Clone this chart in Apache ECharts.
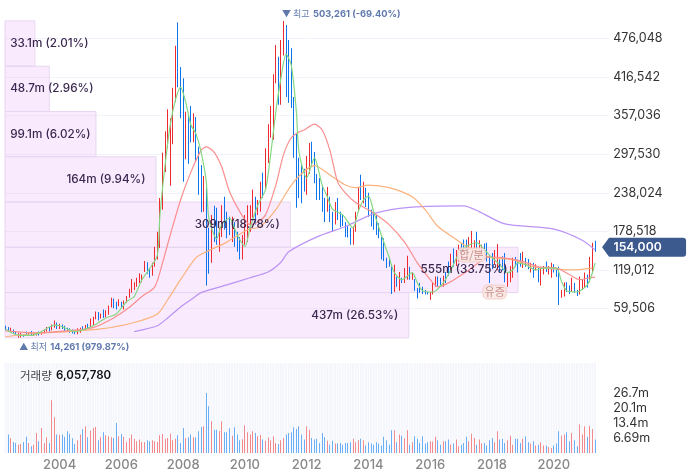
<!DOCTYPE html>
<html><head><meta charset="utf-8">
<style>html,body{margin:0;padding:0;background:#fff}#c{width:692px;height:476px}</style>
<script src="https://cdn.jsdelivr.net/npm/echarts@6/dist/echarts.min.js"></script>
</head><body><div id="c"></div>
<script>
const FONT = 'Inter, "Noto Sans CJK KR", sans-serif';
const startYear = 2002, startMonth = 4, slotCount = 235;
const xTickYears = [2004,2006,2008,2010,2012,2014,2016,2018,2020];
const priceTicks = [59506,119012,178518,238024,297530,357036,416542,476048];
const volTickLabels = {'6.69':'6.69m','13.38':'13.4m','20.07':'20.1m','26.76':'26.7m'};

// monthly bars, prices in thousands
const dirs = "BBRBBRRBBR"+"BRRBRRRBRR"+"BRBBBBBBRR"+"BRBRRRBRBR"+"RRBBRBRRRR"+"RRRRRBBRRR"+"RRRRRRRBBB"+"RBBRBBBRBB"+"RBBRRBBBRB"+"BBRRRRRBRR"+"BRRRRRBRRB"+"BBBBBBBRRB"+"BBBBBRBBRB"+"BBBBBRRRBR"+"BBBBBBBBBB"+"BRBRBRRBRB"+"BBBBBRRRBB"+"RBBRBRRBBB"+"RRRBRRBBBB"+"RRBBBRRRBB"+"BRBBRBRBRR"+"BRRBBBRRBB"+"RBBRRRBRRB";
const highs = [33,31,30,27,24,22,22,20,24,23,25,22,23,24,25,27,31,31,35,41,38,36,35,33,30,29,27,26,29,30,32,34,36,44,47,55,54,52,58,57,64,76,75,70,74,70,72,79,90,105,100,107,114,112,133,131,122,130,155,178,230,300,333,367,353,400,465,501,432,415,363,358,372,361,355,309,281,264,246,184,204,218,215,184,219,232,209,201,201,193,178,170,173,204,219,219,243,232,227,255,269,307,344,372,421,466,448,474,503.261,497,474,461,386,330,292,281,275,295,315,317,301,267,261,250,230,247,232,209,224,230,209,204,193,187,184,187,209,247,266,255,246,238,212,209,204,191,170,168,138,139,127,127,109,116,107,122,141,124,115,105,91,99,93,88,85,85,99,109,109,107,110,116,132,144,152,150,158,160,166,166,170,179,165,178,165,158,160,161,142,145,150,159,135,140,145,116,125,138,139,135,145,147,138,136,130,130,128,122,124,125,132,125,130,128,122,124,88,100,100,95,107,99,88,109,104,115,112,139,161,164];
const lows = [26,24,24,21,19,14.261,15,16,19,19,18,18,18,18,19,21,24,24,26,30,28,28,28,25,24,22,21,20,20,22,25,26,28,31,34,43,41,44,45,46,50,61,60,58,63,61,58,68,76,84,88,93,99,100,116,113,107,110,124,135,153,212,270,307,249,313,378,401,353,255,290,283,316,316,286,235,208,209,95,113,130,162,158,147,170,181,168,173,162,155,147,135,135,158,162,178,200,189,204,209,230,243,284,323,320,407,374,374,450,386,377,369,292,215,230,222,240,235,267,281,253,227,227,209,193,209,193,178,189,196,185,187,170,169,158,158,178,209,227,222,216,201,186,181,173,168,135,133,122,124,82,85,93,87,99,99,104,104,104,87,75,84,82,81,81,73,81,93,93,96,93,99,110,119,124,125,132,138,150,148,150,152,145,150,142,140,135,132,99,120,128,119,115,118,100,93,100,107,124,115,124,122,124,120,115,107,118,100,95,112,116,112,107,115,108,65,76,78,85,82,85,84,79,81,88,92,92,100,116,147];
// monthly volume, millions
const volumes = [0,8.2,6.7,4.9,4.5,3.7,4.0,4.9,7.2,4.5,3.0,3.7,8.9,5.2,11.2,4.5,7.0,4.5,23.5,15.9,8.3,8.0,8.3,7.2,9.7,8.6,6.6,4.0,5.7,8.3,10.7,11.9,7.0,10,11.2,11.6,5.7,7.0,9.2,7.9,7.5,7.0,6.7,13.4,7.5,8.5,7.2,4.9,6.7,8.2,6.3,5.2,6.0,4.9,4.9,5.7,5.2,5.7,5.2,4.9,7.9,8.5,6.3,6.7,8.6,5.7,6.3,7.9,4.5,11.2,6.7,7.0,8.2,7.0,7.0,9.7,11.6,11.9,26.8,20.9,14.2,10.4,10.4,9.8,14.2,9.2,9.2,11,7.7,11.5,8.2,5.7,6.1,12.4,9.2,8.2,9.7,8.9,7.5,8.0,6.0,5.5,6.9,5.7,7.5,4.5,4.0,5.7,6.7,8.2,8.9,9.2,11.5,10.7,11.9,8.2,6.0,11.9,10.4,6.7,6.0,6.3,4.5,8.9,7.0,5.5,3.7,5.5,4.2,4.2,4.5,3.7,4.5,4.5,4.8,6.3,4.8,5.7,6.3,5.7,3.4,4.8,4.2,3.7,4.8,4.2,3.3,7.2,5.7,3.7,10.1,10.1,4.8,8.3,7.7,6.6,10.1,3.7,4.8,7.5,6.3,4.5,7.5,4.2,4.8,5.2,5.1,7.2,5.7,3.7,5.2,5.2,6.0,3.7,4.2,6.0,3.0,3.7,4.5,7.2,5.2,8.6,6.7,3.7,6.0,4.2,4.5,3.3,5.7,6.7,4.8,9.7,6.0,6.3,4.5,5.7,7.7,3.7,6.3,6.3,4.5,6.3,7.5,4.8,4.2,5.2,3.3,3.7,4.8,3.3,3.3,2.7,2.2,3.3,4.2,9.7,7.7,8.2,9.2,5.2,8.9,5.7,3.0,12.7,8.2,11.9,7.2,12.2,10.7,6.06];

// moving averages as [bar index, price in thousands]
const maGreen = [[0,28],[3,21],[6,18],[10,18],[13,22],[17,31],[19,34],[21,33],[24,28],[27,24],[31,28],[35,35],[39,45],[43,51],[47,70],[50,78],[53,104],[56,121],[59,142],[60,204],[62,281],[64,343],[66,381],[68,401],[70,378],[72,343],[74,329],[76,301],[78,255],[79,199],[82,167],[84,189],[87,199],[90,173],[93,155],[95,184],[98,219],[101,243],[103,297],[105,363],[107,415],[109,452],[111,435],[113,363],[114,301],[117,261],[120,292],[123,250],[125,232],[127,213],[131,204],[135,184],[137,209],[139,227],[141,233],[143,209],[146,173],[149,139],[151,115],[154,104],[158,115],[160,99],[162,87],[166,85],[170,99],[173,119],[177,150],[183,161],[184,159],[188,142],[192,127],[195,115],[197,119],[199,130],[202,127],[206,119],[209,122],[214,122],[216,101],[218,87],[222,85],[226,96],[228,115],[229,130]];
const maRed = [[0,25],[11,22],[24,25],[34,30],[42,45],[48,61],[53,78],[58,93],[61,130],[64,173],[68,227],[72,270],[76,304],[78,309],[81,301],[84,278],[87,240],[91,209],[95,189],[98,193],[101,204],[105,250],[108,297],[111,323],[114,332],[116,335],[120,344],[123,335],[126,304],[129,255],[132,238],[136,223],[143,207],[149,189],[155,162],[160,130],[165,104],[168,93],[173,101],[180,119],[188,139],[193,138],[201,132],[207,124],[214,122],[219,112],[223,104],[227,107],[229,108]];
const maOrange = [[0,16],[11,21],[24,24],[37,28],[50,38],[59,51],[63,73],[68,104],[74,138],[78,147],[86,162],[94,181],[99,186],[105,212],[112,255],[120,280],[127,263],[132,250],[136,246],[141,250],[149,246],[158,232],[163,212],[168,186],[174,169],[178,158],[188,139],[197,135],[205,124],[212,121],[220,119],[228,122]];
const maPurple = [[50,24],[59,33],[63,45],[68,62],[72,73],[76,84],[86,96],[95,107],[102,116],[107,131],[110,147],[121,170],[132,186],[144,207],[158,216],[178,218],[184,209],[194,190],[213,182],[224,165],[229,150]];

// volume profile
const profileEdges = [14261,84118,153975,223832,293689,363546,433403,503261];
const profileVolumes = [437,555,309,164,99.1,48.7,33.1];
const profileLabels = ['437m (26.53%)','555m (33.75%)','309m (18.78%)','164m (9.94%)','99.1m (6.02%)','48.7m (2.96%)','33.1m (2.01%)'];

const tagLabels = ['합/분','유증'], tagBars = [181,190], tagPrices = [142000,85000];
const lastClose = 154000, lastBar = 229;
const highBar = 108, highPrice = 503261, lowBar = 5, lowPrice = 14261;

const categories = [];
for (let i=0;i<slotCount;i++){const m=startMonth-1+i;categories.push((startYear+Math.floor(m/12))+'-'+String(m%12+1).padStart(2,'0'));}
const RED='#ec2a30',BLUE='#0c74ec',VRED='#f2898c',VBLUE='#6aaef6';
const candles = highs.map((h,i)=>[i,lows[i]*1000,h*1000,dirs[i]==='R'?1:0]);
const volData = volumes.map((v,i)=>[i,v,dirs[i]==='R'?1:0]);
const VMAX = 40.14;
const scale1000 = a => a.map(p=>[p[0],p[1]*1000]);
const lineSeries = (data,color,z)=>({type:'line',xAxisIndex:0,yAxisIndex:0,data:scale1000(data),smooth:0.25,showSymbol:false,symbol:'none',z,clip:false,silent:true,lineStyle:{color,width:1.2},itemStyle:{color}});
const profileData = profileVolumes.map((v,i)=>[v,profileEdges[i],profileEdges[i+1],i]);
const markRich = {a:{fontSize:9,color:'#6079ad',fontFamily:'"Noto Sans CJK KR"'},b:{fontSize:9.3,fontWeight:700,color:'#6079ad',fontFamily:FONT}};

const chart = echarts.init(document.getElementById('c'),null,{renderer:'canvas'});
chart.setOption({
  animation:false,
  textStyle:{fontFamily:FONT},
  title:{left:20,top:367,padding:0,text:'{a|거래량} {b|6,057,780}',textStyle:{rich:{a:{fontSize:11.5,fontWeight:400,color:'#444',fontFamily:'"Noto Sans CJK KR"'},b:{fontSize:11.5,fontWeight:600,color:'#111',fontFamily:FONT}}}},
  grid:[{left:4.2,top:0,width:605,height:347.1},{left:4.2,top:363,width:605,height:90}],
  xAxis:[
    {type:'category',gridIndex:0,data:categories,show:false,boundaryGap:true},
    {type:'value',gridIndex:0,min:0,max:653.5,show:false,splitLine:{show:false}},
    {type:'category',gridIndex:1,data:categories,boundaryGap:true,axisLine:{show:false},axisTick:{show:false},splitLine:{show:false},
      axisLabel:{margin:6,fontSize:13,fontWeight:500,color:'#888',fontFamily:FONT,hideOverlap:false,
        interval:(i,v)=>v.endsWith('-01')&&xTickYears.includes(+v.slice(0,4)),formatter:v=>v.slice(0,4)}}
  ],
  yAxis:[
    {type:'value',gridIndex:0,position:'right',min:0,max:535554,interval:59506,axisLine:{show:false},axisTick:{show:false},
      splitLine:{show:true,showMinLine:false,showMaxLine:false,lineStyle:{color:'#f1f3fa',width:1}},
      axisLabel:{margin:4,fontSize:12.5,color:'#333',fontFamily:FONT,formatter:v=>priceTicks.includes(v)?v.toLocaleString('en-US'):''}},
    {type:'value',gridIndex:1,position:'right',min:0,max:VMAX,interval:6.69,axisLine:{show:false},axisTick:{show:false},splitLine:{show:false},
      axisLabel:{margin:4,fontSize:12.5,color:'#333',fontFamily:FONT,formatter:v=>volTickLabels[v.toFixed(2)]||''}}
  ],
  series:[
    {type:'custom',name:'profile',xAxisIndex:1,yAxisIndex:0,z:1,silent:true,clip:false,data:profileData,
      encode:{x:0,y:[1,2]},
      renderItem:(p,api)=>{
        const a=api.coord([0,api.value(1)]),b=api.coord([api.value(0),api.value(2)]);
        return {type:'rect',shape:{x:a[0]+0.8,y:b[1],width:b[0]-a[0]-0.8,height:a[1]-b[1]},
          style:{fill:'rgba(232,170,248,0.24)',stroke:'#e7d6f1',lineWidth:1}};
      }},
    {type:'custom',name:'profileText',xAxisIndex:1,yAxisIndex:0,z:8,silent:true,clip:false,data:profileData,
      encode:{x:0,y:[1,2]},
      renderItem:(p,api)=>{
        const a=api.coord([0,api.value(1)]),b=api.coord([api.value(0),api.value(2)]);
        const w=b[0]-a[0],right=w>130;
        return {type:'text',x:right?b[0]-10.5:a[0]+6,y:(a[1]+b[1])/2,
          style:{text:profileLabels[api.value(3)],font:'500 11.7px '+FONT,fill:'#3a2850',textAlign:right?'right':'left',textVerticalAlign:'middle'}};
      }},
    {type:'custom',name:'price',xAxisIndex:0,yAxisIndex:0,z:3,data:candles,silent:true,clip:false,
      encode:{x:0,y:[1,2]},
      renderItem:(p,api)=>{
        const a=api.coord([api.value(0),api.value(1)]),b=api.coord([api.value(0),api.value(2)]);
        return {type:'rect',shape:{x:Math.round(a[0]-0.5),y:b[1],width:1,height:a[1]-b[1]},style:{fill:api.value(3)?RED:BLUE}};
      },
      markPoint:{silent:true,symbol:'circle',symbolSize:1,itemStyle:{color:'rgba(0,0,0,0)'},z:9,
        data:[
          {coord:[highBar,highPrice],label:{show:true,position:'right',offset:[-7,-7],formatter:'{a|▼ 최고} {b|503,261 (-69.40%)}',rich:markRich}},
          {coord:[lowBar,lowPrice],label:{show:true,position:'right',offset:[-4.5,9],formatter:'{a|▲ 최저} {b|14,261 (979.87%)}',rich:markRich}},
          ...tagLabels.map((t,i)=>({coord:[tagBars[i],tagPrices[i]],label:{show:true,position:'inside',formatter:t,fontSize:11,color:'#c98e8a',fontFamily:'"Noto Sans CJK KR"',
            backgroundColor:'rgba(250,232,228,0.85)',borderColor:'rgba(240,205,200,0.9)',borderWidth:1,borderRadius:4,padding:[1,1]}}))
        ]}},
    lineSeries(maPurple,'#bb93f6',4),
    lineSeries(maOrange,'#fbb27c',5),
    lineSeries(maRed,'#fb8e8e',6),
    lineSeries(maGreen,'#84d884',7),
    {type:'custom',name:'lastTag',xAxisIndex:0,yAxisIndex:0,z:10,silent:true,clip:false,data:[[lastBar,lastClose]],
      encode:{x:0,y:1},
      renderItem:(p,api)=>{
        const c=api.coord([lastBar,lastClose]),y=c[1],x=c[0]+7;
        return {type:'group',children:[
          {type:'path',shape:{pathData:`M${x} ${y} L${x+7} ${y-9.5} L${x+81} ${y-9.5} Q${x+84} ${y-9.5} ${x+84} ${y-6.5} L${x+84} ${y+6.5} Q${x+84} ${y+9.5} ${x+81} ${y+9.5} L${x+7} ${y+9.5} Z`,
            layout:'cover',x:x,y:y-9.5,width:84,height:19},style:{fill:'#3d5a8f'}},
          {type:'text',x:x+11.5,y:y,style:{text:lastClose.toLocaleString('en-US'),font:'600 12.2px '+FONT,fill:'#fff',textAlign:'left',textVerticalAlign:'middle'}}
        ]};
      }},
    {type:'bar',name:'stripes',xAxisIndex:2,yAxisIndex:1,z:1,silent:true,barWidth:1.9,barGap:'-100%',data:volumes.map(()=>VMAX),itemStyle:{color:'#f4f6fc'}},
    {type:'custom',name:'volume',xAxisIndex:2,yAxisIndex:1,z:2,silent:true,data:volData,
      encode:{x:0,y:1},
      renderItem:(p,api)=>{
        const a=api.coord([api.value(0),0]),b=api.coord([api.value(0),api.value(1)]);
        return {type:'rect',shape:{x:Math.round(a[0]-0.5),y:b[1],width:1,height:a[1]-b[1]},style:{fill:api.value(2)?VRED:VBLUE}};
      }}
  ]
});
</script></body></html>
